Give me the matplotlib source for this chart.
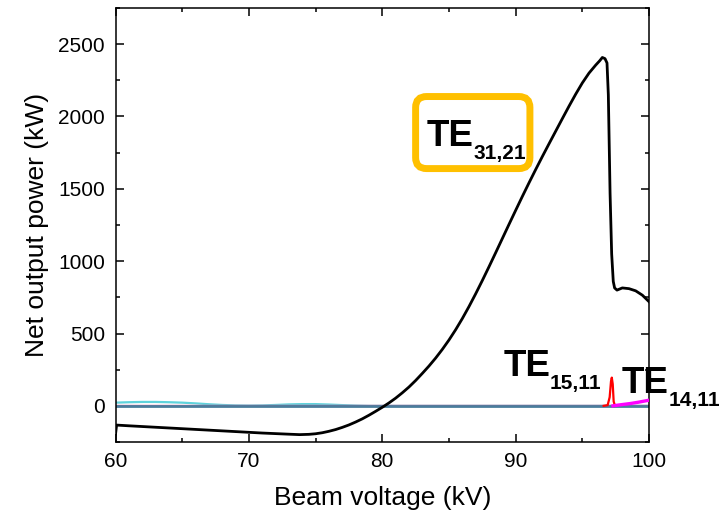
import matplotlib
matplotlib.use("Agg")
import matplotlib.pyplot as plt
from matplotlib.patches import FancyBboxPatch
from matplotlib.transforms import IdentityTransform
from matplotlib.ticker import MultipleLocator

plt.rcParams['font.family'] = ['Liberation Sans', 'DejaVu Sans']

# ---- data ----
te3121_v = [60.0, 60.08, 61, 62, 63, 64, 65, 66, 67, 68, 69, 70, 71, 72, 73, 73.8,
            74.5, 75, 75.5, 76, 76.5, 77, 77.5, 78, 78.5, 79, 79.5, 80, 80.5, 81,
            81.5, 82, 82.5, 83, 83.5, 84, 84.5, 85, 85.5, 86, 86.5, 87, 87.5, 88,
            88.5, 89, 89.5, 90, 90.5, 91, 91.5, 92, 92.5, 93, 93.5, 94, 94.5, 95,
            95.5, 96, 96.3, 96.5, 96.7, 96.85, 96.95, 97.08, 97.2, 97.32, 97.42,
            97.6, 98.0, 98.5, 99.0, 99.5, 100.0]
te3121_p = [-195, -133, -138, -143, -148, -153, -158, -163, -168, -173, -178, -183, -188, -192, -196, -199,
            -197, -193, -186, -176, -164, -149, -132, -112, -90, -65, -38, -10, 20, 53,
            90, 130, 175, 224, 275, 330, 390, 455, 526, 603, 686, 774, 866, 961,
            1058, 1156, 1254, 1351, 1447, 1541, 1633, 1723, 1811, 1898, 1985, 2071, 2154, 2232,
            2300, 2355, 2385, 2408, 2400, 2370, 2150, 1470, 1050, 860, 815,
            800, 815, 810, 795, 765, 720]

te1511_v = [96.6, 96.9, 97.05, 97.15, 97.21, 97.28, 97.35, 97.45]
te1511_p = [0, 5, 60, 170, 195, 150, 30, 0]

te1411_v = [97.3, 97.6, 98.0, 98.6, 99.2, 99.6, 100]
te1411_p = [0, 4, 9, 16, 25, 32, 39]

cyan_v = [60, 61, 62, 63, 64, 65, 66, 67, 68, 69, 70, 71, 72, 73, 74, 75, 76, 77, 78, 79, 80, 100]
cyan_p = [22, 25, 27, 27, 25, 22, 17, 11, 6, 3, 2, 3, 6, 10, 12, 12, 9, 5, 2, 0, 0, 0]

pink_v = [60, 100]
pink_p = [7, 7]

base_v = [60, 100]
base_p = [0, 0]

x_ticks = [60, 70, 80, 90, 100]
y_ticks = [0, 500, 1000, 1500, 2000, 2500]

labels = [("TE", "31,21", 83.34, 1793),
          ("TE", "15,11", 89.09, 204),
          ("TE", "14,11", 97.96, 90)]
box_corners = (82.5, 1640, 91.07, 2138)

# ---- figure ----
fig = plt.figure(figsize=(7.28, 5.16), dpi=100)
ax = fig.add_axes([0.1587, 0.1434, 0.7328, 0.8411])

ax.plot(cyan_v, cyan_p, color='#5fd3dc', lw=1.6, zorder=2)
ax.plot(pink_v, pink_p, color='#e8609e', lw=1.0, zorder=2)
ax.plot(base_v, base_p, color='#4a7d9c', lw=2.0, zorder=2.5)
ax.plot(te1511_v, te1511_p, color='#ff0000', lw=1.6, zorder=3)
ax.plot(te1411_v, te1411_p, color='#ff00ff', lw=2.4, zorder=3)
ax.plot(te3121_v, te3121_p, color='black', lw=2.0, zorder=4)

ax.set_xlim(60, 100)
ax.set_ylim(-250, 2750)
ax.set_xticks(x_ticks)
ax.set_yticks(y_ticks)
ax.xaxis.set_minor_locator(MultipleLocator(5))
ax.yaxis.set_minor_locator(MultipleLocator(250))
ax.tick_params(which='both', direction='in', top=True, right=True, width=1.1)
ax.tick_params(which='major', length=6, labelsize=15)
ax.tick_params(axis='y', which='major', pad=7.5)
ax.tick_params(axis='x', which='major', pad=7)
ax.tick_params(which='minor', length=3)
for s in ax.spines.values():
    s.set_linewidth(1.1)

ax.set_xlabel("Beam voltage (kV)", fontsize=19, labelpad=11)
ax.set_ylabel("Net output power (kW)", fontsize=19, labelpad=7)

for main, sub, x, y in labels:
    ax.text(x, y, main, fontsize=26.5, fontweight='bold', ha='left', va='baseline', zorder=6)
    ax.annotate(sub, xy=(x, y), xytext=(33.5, -9.3), textcoords='offset points',
                fontsize=15, fontweight='bold', ha='left', va='baseline',
                annotation_clip=False, zorder=6)

# rounded box around TE31,21 drawn in pixel space
x0, y0 = ax.transData.transform((box_corners[0], box_corners[1]))
x1, y1 = ax.transData.transform((box_corners[2], box_corners[3]))
box = FancyBboxPatch((x0, y0), x1 - x0, y1 - y0,
                     boxstyle="round,pad=0,rounding_size=11",
                     fc='none', ec='#ffc000', lw=5, transform=IdentityTransform(),
                     zorder=5)
ax.add_patch(box)

fig.savefig("out.png", dpi=100)
